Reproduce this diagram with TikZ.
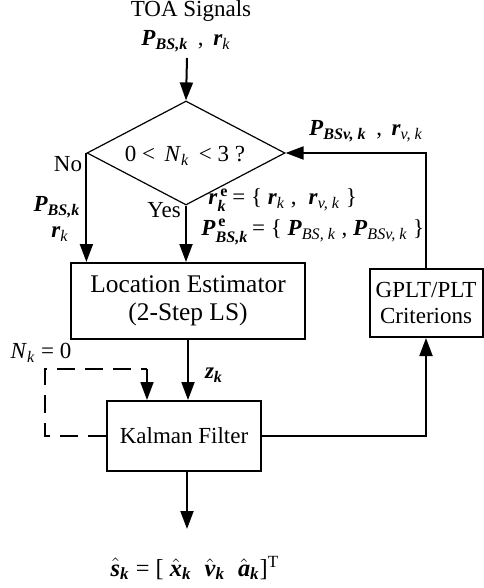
\documentclass[tikz,border=0pt]{standalone}
\usepackage{amsmath}
\usepackage{fontspec}
\setmainfont{Liberation Serif}
\usetikzlibrary{arrows.meta,shapes.geometric}
\newcommand{\bv}[1]{\textbf{\textit{#1}}}
\newcommand{\ti}[1]{\textit{#1}}
\tikzset{
  blk/.style={draw, line width=1pt, align=center, inner sep=0pt},
  arr/.style={line width=1pt, -{Triangle[length=9pt,width=6.5pt]}},
  lbl/.style={inner sep=0pt},
  dsh/.style={line width=0.9pt, dash pattern=on 9pt off 5pt}
}
\begin{document}
\begin{tikzpicture}[x=0.5pt,y=-0.5pt, font=\fontsize{11.5}{13}\selectfont]
\useasboundingbox (0,0) rectangle (483,588);
% blocks
\node[draw, diamond, line width=0.6pt, minimum width=99pt, minimum height=52pt, inner sep=0pt] (dia) at (186,153) {};
\node[lbl] (cond) at (185,156) {0 <\, \ti{N}$_{\ti{k}}$\, < 3 ?};
\node[blk, minimum width=117pt, minimum height=38pt, font=\fontsize{12.7}{14}\selectfont] (est) at (188,301) {Location Estimator\\(2-Step LS)};
\node[blk, minimum width=56.5pt, minimum height=34pt] (gplt) at (426,303) {GPLT/PLT\\Criterions};
\node[blk, minimum width=77pt, minimum height=35pt] (kal) at (184,436) {Kalman Filter};
% free ends
\coordinate (toa) at (187,58);
\coordinate (out) at (187,529);
\coordinate (d1) at (45,369);
\coordinate (d2) at (147,369);
% texts
\node[lbl] (toat) at (191,11) {TOA Signals};
\node[lbl] (toal) at (186,41) {$\bv{P}_{\bv{BS,k}}$ \,,\, $\bv{r}_{\ti{k}}$};
\node[lbl] (no) at (68,164) {No};
\node[lbl] (yes) at (164,210) {Yes};
\node[lbl] (lp) at (57,207) {$\bv{P}_{\bv{BS,k}}$};
\node[lbl] (lr) at (60,234) {$\bv{r}_{\ti{k}}$};
\node[lbl, anchor=west] (re) at (208,200) {$\bv{r}^{\,\textbf{e}}_{\bv{k}}$\,= \{ $\bv{r}_{\ti{k}}$ ,\; $\bv{r}_{\ti{v, k}}$ \}};
\node[lbl, anchor=west] (pe) at (201,232) {$\bv{P}^{\,\textbf{e}}_{\bv{BS,k}}$\,= \{ $\bv{P}_{\ti{BS, k}}$ , $\bv{P}_{\ti{BSv, k}}$ \}};
\node[lbl] (fb) at (366,131) {$\bv{P}_{\bv{BSv, k}}$ \,,\, $\bv{r}_{\ti{v, k}}$};
\node[lbl] (zk) at (214,375) {$\bv{z}_{\bv{k}}$};
\node[lbl] (nk) at (41,353) {\ti{N}$_{\ti{k}}$ = 0};
\node[lbl, font=\fontsize{12.2}{14}\selectfont] (sk) at (195,568) {$\hat{\bv{s}}_{\bv{k}}$ = [ $\hat{\bv{x}}_{\bv{k}}$\; $\hat{\bv{v}}_{\bv{k}}$\; $\hat{\bv{a}}_{\bv{k}}$]$^{\text{T}}$};
% connectors
\draw[arr] (toa) -- (dia.north);
\draw[arr] (dia.west) -- (dia.west |- est.north);
\draw[arr] (dia.south) -- (dia.south |- est.north);
\draw[arr] (est.south) -- (est.south |- kal.north);
\draw[arr] (kal.east) -| (gplt.south);
\draw[arr] (gplt.north) |- (dia.east);
\draw[dsh] (kal.west) -| (d1) -- (d2);
\draw[arr, dsh] (d2) -- (d2 |- kal.north);
\draw[arr] (out |- kal.south) -- (out);
\end{tikzpicture}
\end{document}
